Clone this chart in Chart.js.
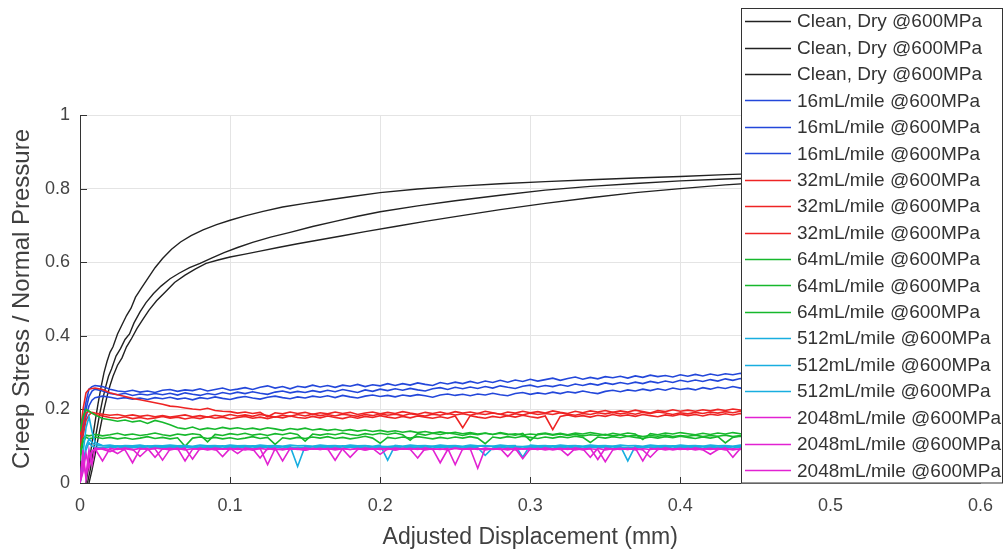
<!DOCTYPE html>
<html>
<head>
<meta charset="utf-8">
<script src="https://cdn.jsdelivr.net/npm/chart.js@4.4.1/dist/chart.umd.min.js"></script>
<style>
  html, body { margin: 0; padding: 0; background: #fff; }
</style>
</head>
<body>
<canvas id="chart" width="1005" height="552"></canvas>
<script>
// clean, dry runs (own sampling)
const xClean1 = [0.004,0.006,0.008,0.010,0.012,0.014,0.016,0.018,0.020,0.022,0.025,0.028,0.031,0.034,0.037,0.041,0.045,0.050,0.055,0.061,0.067,0.074,0.082,0.091,0.100,0.110,0.122,0.135,0.150,0.165,0.180,0.200,0.225,0.250,0.280,0.310,0.340,0.370,0.400,0.430,0.460];
const yClean1 = [0.000,0.050,0.110,0.165,0.215,0.260,0.300,0.330,0.355,0.370,0.405,0.430,0.455,0.475,0.505,0.530,0.555,0.585,0.610,0.635,0.655,0.672,0.688,0.702,0.714,0.726,0.738,0.750,0.760,0.769,0.778,0.789,0.799,0.806,0.813,0.819,0.824,0.829,0.833,0.838,0.842];
const xClean2 = [0.005,0.007,0.009,0.011,0.013,0.015,0.017,0.019,0.021,0.024,0.027,0.030,0.033,0.036,0.040,0.044,0.049,0.054,0.060,0.066,0.073,0.080,0.088,0.096,0.105,0.115,0.127,0.140,0.155,0.170,0.185,0.200,0.225,0.250,0.280,0.310,0.340,0.370,0.400,0.430,0.460];
const yClean2 = [0.000,0.040,0.090,0.140,0.185,0.225,0.260,0.290,0.310,0.345,0.365,0.390,0.405,0.435,0.465,0.490,0.515,0.535,0.555,0.570,0.585,0.597,0.612,0.626,0.640,0.654,0.668,0.681,0.697,0.711,0.725,0.737,0.753,0.767,0.782,0.796,0.806,0.814,0.821,0.826,0.830];
const xClean3 = [0.006,0.008,0.010,0.012,0.014,0.016,0.018,0.020,0.022,0.025,0.028,0.031,0.034,0.038,0.042,0.046,0.051,0.057,0.063,0.070,0.077,0.084,0.092,0.100,0.110,0.120,0.132,0.145,0.160,0.175,0.190,0.210,0.230,0.250,0.280,0.310,0.340,0.370,0.400,0.430,0.460];
const yClean3 = [0.000,0.035,0.075,0.120,0.160,0.200,0.235,0.265,0.290,0.320,0.340,0.370,0.390,0.420,0.445,0.470,0.495,0.520,0.545,0.565,0.582,0.597,0.606,0.614,0.622,0.630,0.640,0.650,0.661,0.672,0.683,0.697,0.711,0.724,0.743,0.760,0.775,0.789,0.800,0.810,0.818];

// shared displacement samples for the lubricated runs
const disp = [0,0.002,0.004,0.006,0.008,
  0.010,0.015,0.020,0.025,0.030,0.035,0.040,0.045,0.050,0.055,
  0.060,0.065,0.070,0.075,0.080,0.085,0.090,0.095,0.100,0.105,
  0.110,0.115,0.120,0.125,0.130,0.135,0.140,0.145,0.150,0.155,
  0.160,0.165,0.170,0.175,0.180,0.185,0.190,0.195,0.200,0.205,
  0.210,0.215,0.220,0.225,0.230,0.235,0.240,0.245,0.250,0.255,
  0.260,0.265,0.270,0.275,0.280,0.285,0.290,0.295,0.300,0.305,
  0.310,0.315,0.320,0.325,0.330,0.335,0.340,0.345,0.350,0.355,
  0.360,0.365,0.370,0.375,0.380,0.385,0.390,0.395,0.400,0.405,
  0.410,0.415,0.420,0.425,0.430,0.435,0.440,0.445,0.450];

// 16 mL/mile
const y16a = [0.12,0.17,0.22,0.255,0.262,
  0.265,0.262,0.255,0.250,0.248,0.252,0.247,0.250,0.246,0.252,
  0.254,0.249,0.253,0.251,0.256,0.250,0.254,0.258,0.252,0.255,
  0.259,0.254,0.260,0.264,0.258,0.262,0.256,0.263,0.260,0.266,
  0.261,0.265,0.260,0.266,0.263,0.268,0.262,0.267,0.264,0.270,
  0.265,0.270,0.266,0.272,0.268,0.265,0.273,0.269,0.274,0.270,
  0.276,0.271,0.277,0.273,0.279,0.274,0.280,0.276,0.282,0.277,
  0.281,0.285,0.279,0.284,0.288,0.282,0.287,0.283,0.289,0.286,
  0.290,0.285,0.291,0.287,0.293,0.289,0.292,0.288,0.294,0.290,
  0.295,0.291,0.296,0.292,0.297,0.294,0.298,0.295,0.297];
const y16b = [0.10,0.15,0.20,0.235,0.25,
  0.255,0.250,0.243,0.240,0.244,0.238,0.242,0.239,0.243,0.240,
  0.244,0.239,0.245,0.241,0.238,0.243,0.240,0.246,0.242,0.247,
  0.243,0.248,0.244,0.241,0.247,0.250,0.245,0.249,0.246,0.251,
  0.247,0.252,0.248,0.254,0.250,0.246,0.253,0.249,0.255,0.251,
  0.256,0.252,0.257,0.253,0.250,0.256,0.259,0.254,0.260,0.256,
  0.261,0.257,0.262,0.258,0.264,0.260,0.257,0.263,0.266,0.261,
  0.265,0.262,0.267,0.263,0.269,0.265,0.270,0.266,0.272,0.268,
  0.273,0.269,0.274,0.270,0.276,0.272,0.277,0.273,0.279,0.275,
  0.280,0.276,0.281,0.277,0.283,0.279,0.284,0.280,0.282];
const y16c = [0.08,0.13,0.18,0.21,0.225,
  0.232,0.236,0.233,0.229,0.232,0.228,0.231,0.227,0.232,0.229,
  0.233,0.228,0.231,0.226,0.232,0.229,0.234,0.230,0.227,0.232,
  0.235,0.231,0.228,0.233,0.236,0.232,0.229,0.234,0.231,0.236,
  0.233,0.237,0.232,0.238,0.234,0.231,0.236,0.239,0.235,0.238,
  0.234,0.239,0.236,0.240,0.237,0.233,0.239,0.242,0.238,0.241,
  0.237,0.242,0.239,0.244,0.240,0.237,0.243,0.246,0.241,0.245,
  0.242,0.247,0.243,0.248,0.245,0.250,0.246,0.243,0.249,0.252,
  0.248,0.253,0.250,0.255,0.251,0.256,0.252,0.258,0.254,0.257,
  0.253,0.259,0.255,0.260,0.257,0.262,0.258,0.263,0.261];

// 32 mL/mile
const y32a = [0.13,0.20,0.245,0.255,0.257,
  0.258,0.254,0.245,0.240,0.235,0.230,0.226,0.222,0.218,0.214,
  0.209,0.207,0.204,0.201,0.199,0.203,0.197,0.195,0.194,0.190,
  0.193,0.189,0.192,0.180,0.191,0.188,0.193,0.189,0.192,0.187,
  0.191,0.188,0.193,0.189,0.192,0.186,0.190,0.193,0.188,0.192,
  0.189,0.194,0.190,0.187,0.192,0.189,0.193,0.188,0.194,0.190,
  0.193,0.189,0.195,0.191,0.187,0.193,0.190,0.195,0.191,0.194,
  0.190,0.196,0.192,0.189,0.195,0.191,0.196,0.193,0.197,0.192,
  0.196,0.193,0.198,0.194,0.190,0.197,0.194,0.199,0.195,0.198,
  0.195,0.199,0.196,0.200,0.197,0.201,0.198,0.200,0.199];
const y32b = [0.10,0.16,0.19,0.195,0.19,
  0.186,0.182,0.178,0.176,0.180,0.175,0.178,0.174,0.177,0.181,
  0.176,0.179,0.174,0.178,0.175,0.180,0.176,0.179,0.174,0.178,
  0.181,0.176,0.179,0.175,0.180,0.177,0.182,0.178,0.176,0.181,
  0.177,0.182,0.178,0.175,0.180,0.176,0.181,0.178,0.183,0.179,
  0.176,0.181,0.177,0.182,0.179,0.176,0.180,0.176,0.182,0.150,
  0.183,0.179,0.176,0.181,0.178,0.183,0.179,0.184,0.180,0.177,
  0.182,0.145,0.181,0.185,0.180,0.183,0.179,0.184,0.181,0.186,
  0.182,0.185,0.181,0.186,0.183,0.180,0.185,0.182,0.187,0.183,
  0.186,0.182,0.187,0.184,0.188,0.185,0.189,0.186,0.188];
const y32c = [0.08,0.13,0.17,0.185,0.192,
  0.190,0.187,0.184,0.186,0.182,0.185,0.181,0.184,0.180,0.183,
  0.179,0.182,0.185,0.180,0.183,0.179,0.184,0.181,0.186,0.182,
  0.185,0.181,0.186,0.183,0.179,0.184,0.181,0.186,0.182,0.187,
  0.183,0.186,0.182,0.187,0.184,0.181,0.186,0.183,0.188,0.184,
  0.187,0.183,0.188,0.185,0.182,0.187,0.184,0.189,0.185,0.188,
  0.184,0.189,0.186,0.190,0.187,0.183,0.188,0.185,0.190,0.186,
  0.189,0.186,0.191,0.187,0.184,0.189,0.186,0.191,0.188,0.192,
  0.188,0.191,0.187,0.192,0.189,0.193,0.190,0.186,0.191,0.188,
  0.192,0.189,0.193,0.190,0.194,0.191,0.195,0.192,0.194];

// 64 mL/mile
const y64a = [0.14,0.18,0.20,0.195,0.19,
  0.185,0.175,0.172,0.168,0.171,0.166,0.169,0.162,0.170,0.165,
  0.158,0.150,0.147,0.152,0.145,0.149,0.146,0.151,0.147,0.150,
  0.146,0.149,0.145,0.150,0.147,0.143,0.148,0.145,0.149,0.144,
  0.147,0.143,0.146,0.142,0.145,0.141,0.144,0.140,0.143,0.139,
  0.142,0.138,0.141,0.137,0.140,0.136,0.139,0.135,0.138,0.134,
  0.137,0.133,0.136,0.132,0.135,0.131,0.134,0.130,0.133,0.131,
  0.134,0.130,0.133,0.129,0.132,0.128,0.131,0.129,0.132,0.128,
  0.131,0.127,0.130,0.126,0.129,0.127,0.130,0.126,0.129,0.127,
  0.130,0.126,0.129,0.127,0.130,0.126,0.129,0.127,0.128];
const y64b = [0.06,0.11,0.125,0.12,0.122,
  0.125,0.121,0.124,0.120,0.123,0.119,0.122,0.126,0.121,0.124,
  0.120,0.123,0.100,0.122,0.125,0.121,0.124,0.120,0.123,0.119,
  0.122,0.126,0.121,0.124,0.105,0.123,0.120,0.124,0.121,0.125,
  0.122,0.126,0.121,0.124,0.120,0.123,0.127,0.122,0.108,0.124,
  0.121,0.125,0.122,0.126,0.123,0.120,0.124,0.121,0.125,0.122,
  0.126,0.122,0.107,0.125,0.122,0.126,0.123,0.127,0.124,0.121,
  0.125,0.122,0.126,0.123,0.127,0.124,0.110,0.125,0.122,0.126,
  0.123,0.127,0.124,0.121,0.125,0.122,0.126,0.123,0.127,0.124,
  0.121,0.125,0.122,0.126,0.109,0.124,0.127,0.123,0.125];
const y64c = [0.08,0.12,0.13,0.128,0.13,
  0.132,0.128,0.131,0.135,0.130,0.133,0.129,0.132,0.136,0.131,
  0.128,0.133,0.130,0.134,0.131,0.112,0.132,0.129,0.134,0.131,
  0.135,0.130,0.133,0.129,0.134,0.131,0.136,0.132,0.114,0.133,
  0.130,0.134,0.131,0.136,0.132,0.129,0.134,0.131,0.135,0.132,
  0.136,0.131,0.116,0.134,0.130,0.135,0.132,0.136,0.133,0.129,
  0.134,0.131,0.135,0.132,0.137,0.133,0.130,0.135,0.115,0.133,
  0.136,0.132,0.135,0.131,0.136,0.133,0.137,0.134,0.130,0.135,
  0.132,0.136,0.133,0.118,0.134,0.131,0.136,0.133,0.137,0.134,
  0.131,0.135,0.132,0.136,0.133,0.137,0.134,0.131,0.135];

// 512 mL/mile
const y512a = [0.0,0.08,0.15,0.18,0.14,
  0.110,0.102,0.100,0.101,0.099,0.100,0.098,0.101,0.099,0.100,
  0.101,0.099,0.100,0.098,0.101,0.100,0.099,0.101,0.098,0.100,
  0.099,0.101,0.100,0.098,0.101,0.099,0.100,0.045,0.100,0.099,
  0.101,0.100,0.098,0.101,0.099,0.100,0.101,0.098,0.100,0.099,
  0.101,0.099,0.100,0.101,0.098,0.100,0.099,0.101,0.100,0.098,
  0.100,0.101,0.099,0.100,0.098,0.101,0.100,0.099,0.101,0.100,
  0.099,0.101,0.100,0.098,0.101,0.099,0.100,0.101,0.099,0.100,
  0.101,0.060,0.100,0.098,0.101,0.100,0.099,0.101,0.100,0.099,
  0.101,0.100,0.098,0.101,0.100,0.099,0.101,0.100,0.100];
const y512b = [0.0,0.05,0.10,0.12,0.11,
  0.104,0.101,0.103,0.100,0.102,0.101,0.103,0.100,0.102,0.101,
  0.103,0.101,0.102,0.100,0.103,0.101,0.102,0.100,0.103,0.101,
  0.102,0.100,0.103,0.101,0.102,0.100,0.103,0.101,0.102,0.100,
  0.103,0.101,0.102,0.100,0.103,0.101,0.102,0.100,0.103,0.062,
  0.102,0.100,0.103,0.101,0.102,0.100,0.103,0.101,0.102,0.100,
  0.103,0.101,0.102,0.100,0.103,0.101,0.102,0.070,0.103,0.101,
  0.102,0.100,0.103,0.101,0.102,0.100,0.103,0.101,0.102,0.100,
  0.103,0.101,0.102,0.100,0.103,0.101,0.102,0.100,0.103,0.101,
  0.102,0.100,0.103,0.101,0.102,0.100,0.103,0.101,0.102];
const y512c = [0.0,0.04,0.09,0.11,0.10,
  0.098,0.096,0.098,0.095,0.097,0.096,0.098,0.095,0.097,0.096,
  0.098,0.096,0.097,0.095,0.098,0.096,0.097,0.095,0.098,0.096,
  0.097,0.095,0.098,0.096,0.097,0.095,0.098,0.096,0.097,0.095,
  0.098,0.096,0.097,0.095,0.098,0.096,0.097,0.095,0.098,0.096,
  0.097,0.095,0.098,0.096,0.097,0.095,0.098,0.096,0.097,0.095,
  0.098,0.096,0.075,0.095,0.098,0.096,0.097,0.095,0.098,0.096,
  0.097,0.095,0.098,0.096,0.097,0.095,0.098,0.096,0.097,0.095,
  0.098,0.096,0.097,0.095,0.098,0.096,0.097,0.095,0.098,0.096,
  0.097,0.095,0.098,0.096,0.097,0.095,0.098,0.096,0.097];

// 2048 mL/mile
const y2048a = [0.0,0.06,0.02,0.09,0.05,
  0.095,0.092,0.085,0.094,0.090,0.055,0.092,0.094,0.070,0.093,
  0.090,0.094,0.060,0.092,0.094,0.090,0.093,0.072,0.094,0.091,
  0.093,0.089,0.094,0.050,0.093,0.090,0.094,0.092,0.089,0.094,
  0.091,0.093,0.062,0.094,0.091,0.093,0.090,0.094,0.078,0.093,
  0.090,0.094,0.092,0.068,0.094,0.091,0.093,0.090,0.094,0.091,
  0.093,0.040,0.094,0.091,0.093,0.090,0.094,0.066,0.093,0.091,
  0.094,0.090,0.093,0.075,0.094,0.090,0.093,0.091,0.058,0.090,
  0.093,0.091,0.094,0.090,0.070,0.091,0.094,0.090,0.093,0.091,
  0.094,0.090,0.078,0.091,0.094,0.090,0.093,0.091,0.093];
const y2048b = [0.0,0.03,0.08,0.04,0.085,
  0.093,0.060,0.094,0.091,0.095,0.092,0.072,0.091,0.095,0.092,
  0.094,0.091,0.095,0.065,0.094,0.091,0.095,0.092,0.094,0.080,
  0.095,0.092,0.094,0.091,0.095,0.060,0.094,0.091,0.095,0.092,
  0.094,0.091,0.095,0.092,0.070,0.091,0.095,0.092,0.094,0.091,
  0.095,0.092,0.094,0.091,0.095,0.092,0.055,0.091,0.095,0.092,
  0.094,0.091,0.095,0.092,0.094,0.072,0.095,0.092,0.094,0.091,
  0.095,0.092,0.094,0.091,0.095,0.092,0.094,0.064,0.095,0.092,
  0.094,0.091,0.095,0.060,0.094,0.091,0.095,0.092,0.094,0.091,
  0.095,0.092,0.094,0.091,0.095,0.070,0.094,0.091,0.095];
const y2048c = [0.0,0.09,0.01,0.07,0.088,
  0.090,0.094,0.091,0.080,0.093,0.090,0.094,0.091,0.093,0.062,
  0.092,0.094,0.090,0.093,0.091,0.094,0.090,0.093,0.091,0.094,
  0.090,0.093,0.068,0.094,0.090,0.093,0.091,0.094,0.090,0.093,
  0.091,0.094,0.090,0.093,0.091,0.094,0.090,0.093,0.091,0.094,
  0.090,0.093,0.091,0.094,0.090,0.093,0.091,0.094,0.050,0.093,
  0.091,0.094,0.090,0.093,0.091,0.094,0.090,0.093,0.091,0.094,
  0.090,0.093,0.091,0.094,0.090,0.093,0.070,0.094,0.090,0.093,
  0.091,0.094,0.090,0.093,0.091,0.094,0.090,0.093,0.091,0.094,
  0.090,0.093,0.091,0.094,0.090,0.093,0.091,0.094,0.092];

const seriesLabels = [
  'Clean, Dry @600MPa', 'Clean, Dry @600MPa', 'Clean, Dry @600MPa',
  '16mL/mile @600MPa', '16mL/mile @600MPa', '16mL/mile @600MPa',
  '32mL/mile @600MPa', '32mL/mile @600MPa', '32mL/mile @600MPa',
  '64mL/mile @600MPa', '64mL/mile @600MPa', '64mL/mile @600MPa',
  '512mL/mile @600MPa', '512mL/mile @600MPa', '512mL/mile @600MPa',
  '2048mL/mile @600MPa', '2048mL/mile @600MPa', '2048mL/mile @600MPa'
];
const seriesX = [xClean1, xClean2, xClean3,
  disp, disp, disp, disp, disp, disp, disp, disp, disp,
  disp, disp, disp, disp, disp, disp];
const seriesY = [yClean1, yClean2, yClean3,
  y16a, y16b, y16c, y32a, y32b, y32c, y64a, y64b, y64c,
  y512a, y512b, y512c, y2048a, y2048b, y2048c];
const xTicks = [0, 0.1, 0.2, 0.3, 0.4, 0.5, 0.6];
const yTicks = [0, 0.2, 0.4, 0.6, 0.8, 1];

const groupColors = ['#222222', '#2347da', '#ee2424', '#16b82c', '#18aee0', '#e222d2'];

Chart.defaults.font.family = '"Liberation Sans", Arial, Helvetica, sans-serif';

const datasets = seriesY.map((ys, i) => ({
  label: seriesLabels[i],
  data: ys.map((y, j) => ({ x: seriesX[i][j], y: y })),
  borderColor: groupColors[Math.floor(i / 3)],
  borderWidth: i < 3 ? 1.4 : 1.6,
  pointRadius: 0,
  showLine: true,
  fill: false,
  order: -i
}));

// MATLAB style ticks pointing into the axes
const innerTicks = {
  id: 'innerTicks',
  beforeDatasetsDraw(chart) {
    const { ctx, chartArea, scales } = chart;
    ctx.save();
    ctx.strokeStyle = '#333';
    ctx.lineWidth = 1;
    ctx.beginPath();
    xTicks.forEach(v => {
      const px = Math.round(scales.x.getPixelForValue(v)) + 0.5;
      ctx.moveTo(px, chartArea.bottom);
      ctx.lineTo(px, chartArea.bottom - 6);
    });
    yTicks.forEach(v => {
      const py = Math.round(scales.y.getPixelForValue(v)) + 0.5;
      ctx.moveTo(chartArea.left, py);
      ctx.lineTo(chartArea.left + 7, py);
    });
    ctx.stroke();
    ctx.restore();
  }
};

// opaque legend box overlapping the plot, like the original figure
const boxLegend = {
  id: 'boxLegend',
  afterDraw(chart) {
    const { ctx, chartArea } = chart;
    const sets = chart.data.datasets;
    const left = 741, top = 8, right = 1003, bottom = chartArea.bottom + 0.5;
    const rowH = (bottom - top) / sets.length;
    ctx.save();
    ctx.fillStyle = '#fff';
    ctx.fillRect(left, top, right - left, bottom - top);
    ctx.strokeStyle = '#333';
    ctx.lineWidth = 1;
    ctx.strokeRect(left + 0.5, top + 0.5, right - left - 1, bottom - top - 1);
    ctx.font = '19px "Liberation Sans", Arial, sans-serif';
    ctx.textBaseline = 'middle';
    ctx.textAlign = 'left';
    sets.forEach((ds, i) => {
      const y = top + rowH * (i + 0.5);
      ctx.strokeStyle = ds.borderColor;
      ctx.lineWidth = 1.3;
      ctx.beginPath();
      ctx.moveTo(left + 4, Math.round(y) + 0.5);
      ctx.lineTo(left + 50, Math.round(y) + 0.5);
      ctx.stroke();
      ctx.fillStyle = '#333';
      ctx.fillText(ds.label, left + 56, y + 1);
    });
    ctx.restore();
  }
};

const fmt = v => String(Number(v.toFixed(1)));

new Chart(document.getElementById('chart'), {
  type: 'scatter',
  data: { datasets },
  options: {
    responsive: false,
    animation: false,
    devicePixelRatio: 1,
    layout: { padding: { top: 115, right: 19, left: 0, bottom: 0 } },
    plugins: {
      legend: { display: false },
      tooltip: { enabled: false }
    },
    scales: {
      x: {
        type: 'linear',
        min: 0, max: 0.6,
        afterFit: s => { s.height = 69; },
        afterBuildTicks: s => { s.ticks = xTicks.map(v => ({ value: v })); },
        ticks: { color: '#444', font: { size: 18 }, padding: 12, callback: fmt, maxRotation: 0 },
        grid: { color: '#e4e4e4', drawTicks: false },
        border: { color: '#333' },
        title: { display: true, text: 'Adjusted Displacement (mm)', color: '#404040', font: { size: 23 }, padding: { top: 0, bottom: 1 } }
      },
      y: {
        type: 'linear',
        min: 0, max: 1,
        afterFit: s => { s.width = 80; },
        afterBuildTicks: s => { s.ticks = yTicks.map(v => ({ value: v })); },
        ticks: { color: '#444', font: { size: 18 }, padding: 10, callback: fmt },
        grid: { color: '#e4e4e4', drawTicks: false },
        border: { color: '#333' },
        title: { display: true, text: 'Creep Stress / Normal Pressure', color: '#404040', font: { size: 24 }, padding: { top: 8, bottom: 0 } }
      }
    }
  },
  plugins: [innerTicks, boxLegend]
});
</script>
</body>
</html>
